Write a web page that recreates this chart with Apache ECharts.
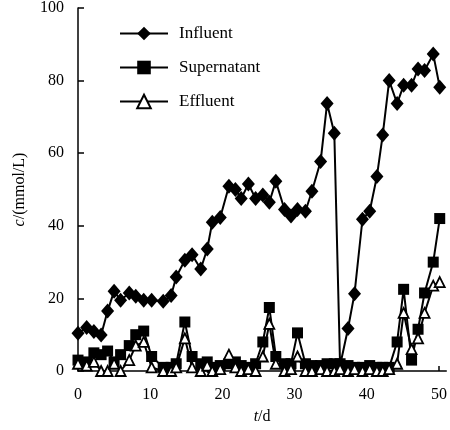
<!DOCTYPE html>
<html>
<head>
<meta charset="utf-8">
<script src="https://cdn.jsdelivr.net/npm/echarts@6/dist/echarts.min.js"></script>
<style>
  html, body { margin: 0; padding: 0; background: #fff; }
  #chart { width: 450px; height: 430px; }
</style>
</head>
<body>
<div id="chart"></div>
<script>
// sampling days (read off the picture, not quite evenly spaced)
var days = [0, 1.2, 2.2, 3.2, 4.1, 5, 5.9, 7.1, 8, 9.1, 10.2, 11.8, 12.9, 13.6, 14.8, 15.8, 17, 17.9, 18.6, 19.7,
  20.9, 21.8, 22.6, 23.6, 24.6, 25.6, 26.5, 27.4, 28.6, 29.5, 30.4, 31.5, 32.4, 33.6, 34.5, 35.5, 36.3, 37.4, 38.3, 39.4,
  40.4, 41.4, 42.2, 43.1, 44.2, 45.1, 46.2, 47.1, 48, 49.2, 50.1];
var influent = [10.4, 12, 10.9, 9.9, 16.5, 22, 19.5, 21.5, 20.6, 19.5, 19.5, 19.2, 20.8, 25.9, 30.5, 32, 28.1, 33.6, 41, 42.3,
  50.9, 50, 47.5, 51.5, 47.5, 48.5, 46.5, 52.3, 44.5, 42.7, 44.5, 44, 49.5, 57.7, 73.7, 65.5, 1.5, 11.7, 21.3, 41.8,
  44, 53.6, 65, 80, 73.7, 78.7, 78.7, 83.2, 82.8, 87.3, 78.2];
var supernatant = [3, 2.5, 5, 4.5, 5.5, 2.5, 4.5, 7, 10, 11, 4, 1, 1, 2, 13.5, 4, 2, 2.5, 1, 1.5,
  2, 2.5, 1.5, 1, 2, 8, 17.5, 4, 2, 2, 10.5, 2, 1.5, 1.5, 2, 2, 2, 1.5, 1, 1,
  1.5, 1, 1, 1, 8, 22.5, 3, 11.5, 21.5, 30, 42];
var effluent = [2, 1.5, 2.5, 0, 0, 2, 0, 3, 7, 8, 1, 0, 0, 1, 9, 1, 0, 1.5, 0, 0.5,
  4.5, 1, 0, 0.5, 0, 4, 13, 2, 0, 0.5, 4, 0, 0, 0.5, 0, 0, 0.5, 0, 0.5, 0,
  0.5, 0, 0, 0.5, 2, 16, 6, 9, 16, 23.5, 24.5];
var seriesNames = ['Influent', 'Supernatant', 'Effluent'];
var yTicks = [0, 100, 20];   // min, max, step
var xTicks = [0, 51, 10];

function pairs(vals) {
  return days.map(function (d, i) { return [d, vals[i]]; });
}

var font = 'Liberation Serif';
var myChart = echarts.init(document.getElementById('chart'));
myChart.setOption({
  animation: false,
  backgroundColor: '#fff',
  grid: { left: 78, top: 7, width: 375, height: 366 },
  legend: {
    orient: 'vertical',
    left: 114,
    top: 20,
    itemWidth: 48,
    itemHeight: 17,
    itemGap: 17,
    textStyle: { fontFamily: font, fontSize: 17, color: '#000', padding: [0, 0, 0, 6] },
    data: seriesNames
  },
  xAxis: {
    type: 'value',
    min: xTicks[0], max: xTicks[1], interval: xTicks[2],
    name: '{i|t}/d',
    nameLocation: 'middle',
    nameGap: 38,
    nameTextStyle: { fontFamily: font, fontSize: 16, color: '#000', rich: { i: { fontStyle: 'italic', fontFamily: font, fontSize: 16 } } },
    axisLine: { lineStyle: { color: '#000', width: 1.5 } },
    axisTick: { inside: true, length: 5, lineStyle: { color: '#000', width: 1.5 } },
    axisLabel: { fontFamily: font, fontSize: 16, color: '#000', margin: 16, showMaxLabel: false },
    splitLine: { show: false }
  },
  yAxis: {
    type: 'value',
    min: yTicks[0], max: yTicks[1], interval: yTicks[2],
    name: '{i|c}/(mmol/L)',
    nameLocation: 'middle',
    nameGap: 50,
    nameTextStyle: { fontFamily: font, fontSize: 16, color: '#000', rich: { i: { fontStyle: 'italic', fontFamily: font, fontSize: 16 } } },
    axisLine: { show: true, lineStyle: { color: '#000', width: 1.5 } },
    axisTick: { show: true, inside: true, length: 6, lineStyle: { color: '#000', width: 1.5 } },
    axisLabel: { fontFamily: font, fontSize: 16, color: '#000', margin: 14 },
    splitLine: { show: false }
  },
  series: [
    {
      name: seriesNames[0], type: 'line', data: pairs(influent),
      symbol: 'diamond', symbolSize: [13, 15],
      lineStyle: { color: '#000', width: 2 },
      itemStyle: { color: '#000' }
    },
    {
      name: seriesNames[1], type: 'line', data: pairs(supernatant),
      symbol: 'rect', symbolSize: 11,
      lineStyle: { color: '#000', width: 2 },
      itemStyle: { color: '#000' }
    },
    {
      name: seriesNames[2], type: 'line', data: pairs(effluent),
      symbol: 'triangle', symbolSize: 10,
      lineStyle: { color: '#000', width: 2 },
      itemStyle: { color: '#fff', borderColor: '#000', borderWidth: 1.8 }
    }
  ]
});
</script>
</body>
</html>
